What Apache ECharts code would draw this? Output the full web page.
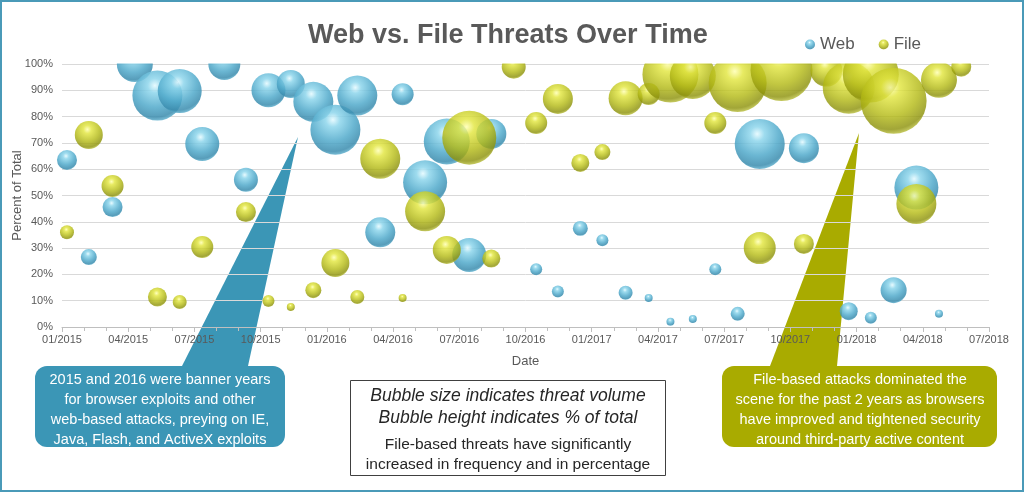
<!DOCTYPE html>
<html>
<head>
<meta charset="utf-8">
<title>Web vs. File Threats Over Time</title>
<script src="https://cdn.jsdelivr.net/npm/echarts@6/dist/echarts.min.js"></script>
<style>
  html, body { margin: 0; padding: 0; background: #fff; }
  #chart { width: 1024px; height: 492px; }
</style>
</head>
<body>
<div id="chart"></div>
<script>
// quarter labels on the date axis
const xTickLabels = ['01/2015', '04/2015', '07/2015', '10/2015', '01/2016', '04/2016', '07/2016',
  '10/2016', '01/2017', '04/2017', '07/2017', '10/2017', '01/2018', '04/2018', '07/2018'];

// Web threats: date, % of total, volume (relative)
const webDates = ['2015-01-08', '2015-02-07', '2015-03-10', '2015-04-10', '2015-05-11', '2015-06-11',
  '2015-07-12', '2015-08-12', '2015-09-11', '2015-10-12', '2015-11-12', '2015-12-13', '2016-01-13',
  '2016-02-12', '2016-03-14', '2016-04-14', '2016-05-15', '2016-06-14', '2016-07-15', '2016-08-15',
  '2016-10-16', '2016-11-15', '2016-12-16', '2017-01-16', '2017-02-16', '2017-03-19', '2017-04-18',
  '2017-05-19', '2017-06-19', '2017-07-20', '2017-08-20', '2017-10-20', '2017-12-21', '2018-01-21',
  '2018-02-20', '2018-03-23', '2018-04-23'];
const webPct = [63.5, 26.6, 45.6, 100, 88, 89.7, 69.6, 100, 56, 90, 92.4, 85.6, 75, 88, 36, 88.5, 55,
  70.5, 27.4, 73.4, 22, 13.5, 37.5, 33, 13, 11, 2, 3, 22, 5, 69.6, 68, 6, 3.5, 14, 53, 5];
const webVolume = [100, 64, 100, 324, 625, 484, 289, 256, 144, 289, 196, 400, 625, 400, 225, 121, 484,
  529, 289, 225, 36, 36, 56, 36, 49, 16, 16, 16, 36, 49, 625, 225, 81, 36, 169, 484, 16];

// File threats: date, % of total, volume (relative)
const fileDates = ['2015-01-08', '2015-02-07', '2015-03-10', '2015-05-11', '2015-06-11', '2015-07-12',
  '2015-09-11', '2015-10-12', '2015-11-12', '2015-12-13', '2016-01-13', '2016-02-12', '2016-03-14',
  '2016-04-14', '2016-05-15', '2016-06-14', '2016-07-15', '2016-08-15', '2016-09-15', '2016-10-16',
  '2016-11-15', '2016-12-16', '2017-01-16', '2017-02-16', '2017-03-19', '2017-04-18', '2017-05-19',
  '2017-06-19', '2017-07-20', '2017-08-20', '2017-09-19', '2017-10-20', '2017-11-20', '2017-12-21',
  '2018-01-21', '2018-02-20', '2018-03-23', '2018-04-23', '2018-05-24'];
const filePct = [36, 73, 53.6, 11.4, 9.5, 30.4, 43.7, 9.9, 7.6, 14, 24.3, 11.4, 64, 11, 44, 29.3, 72,
  26, 99, 77.6, 86.7, 62.4, 66.5, 87, 88.6, 96, 95.4, 77.6, 92.8, 30, 97.7, 31.6, 97.5, 91, 96, 86,
  46.8, 94, 99];
const fileVolume = [49, 196, 121, 90, 49, 121, 100, 36, 16, 64, 196, 49, 400, 16, 400, 196, 729, 81,
  144, 121, 225, 81, 64, 289, 121, 784, 529, 121, 841, 256, 961, 100, 256, 676, 784, 1089, 400, 324, 100];

// months since 01/2015, fractional by day
const monthPos = s => {
  const [y, m, d] = s.split('-').map(Number);
  const dim = new Date(y, m, 0).getDate();
  return (y - 2015) * 12 + (m - 1) + (d - 1) / dim;
};

const toSeriesData = (dates, pct, vol) => dates.map((d, i) => [monthPos(d), pct[i], vol[i]]);

const sphere = (hi, light, mid, dark, rim) => ({
  type: 'radial', x: 0.45, y: 0.3, r: 0.72,
  colorStops: [
    { offset: 0, color: hi },
    { offset: 0.2, color: light },
    { offset: 0.6, color: mid },
    { offset: 0.88, color: dark },
    { offset: 1, color: rim }
  ]
});

const FONT = '"Liberation Sans", Arial, sans-serif';
const GREY = '#595959';

const myChart = echarts.init(document.querySelector('#chart'));

const option = {
  animation: false,
  textStyle: { fontFamily: FONT },
  title: {
    text: 'Web vs. File Threats Over Time',
    left: 303,
    top: 17,
    z: 10,
    textStyle: { fontSize: 27, fontWeight: 'bold', color: GREY, fontFamily: FONT }
  },
  legend: {
    data: ['Web', 'File'],
    left: 800,
    top: 31,
    z: 10,
    icon: 'circle',
    itemWidth: 10,
    itemHeight: 10,
    itemGap: 24,
    textStyle: { fontSize: 17, color: GREY, fontFamily: FONT }
  },
  grid: { left: 62, right: 35, top: 64, bottom: 165, outerBoundsMode: 'none', containLabel: false },
  xAxis: {
    type: 'value',
    min: 0,
    max: 42,
    interval: 3,
    name: 'Date',
    nameLocation: 'middle',
    nameGap: 28,
    nameMoveOverlap: false,
    nameTextStyle: { fontSize: 13, color: GREY },
    axisLine: { lineStyle: { color: '#bfbfbf' } },
    axisTick: { length: 5, lineStyle: { color: '#bfbfbf' } },
    minorTick: { show: true, splitNumber: 3, length: 4, lineStyle: { color: '#bfbfbf' } },
    splitLine: { show: false },
    axisLabel: {
      fontSize: 11,
      color: GREY,
      margin: 7,
      formatter: v => xTickLabels[Math.round(v / 3)]
    }
  },
  yAxis: {
    type: 'value',
    min: 0,
    max: 100,
    interval: 10,
    name: 'Percent of Total',
    nameLocation: 'middle',
    nameGap: 38,
    nameMoveOverlap: false,
    nameTextStyle: { fontSize: 13, color: GREY },
    axisLine: { show: false },
    axisTick: { show: false },
    splitLine: { lineStyle: { color: '#d9d9d9' } },
    axisLabel: { fontSize: 11, color: GREY, margin: 9, formatter: '{value}%' }
  },
  series: [
    {
      name: 'Web',
      type: 'scatter',
      data: toSeriesData(webDates, webPct, webVolume),
      symbolSize: d => Math.sqrt(d[2]) * 2,
      itemStyle: {
        color: sphere('#e4faff', '#8ed6ec', '#51aacb', '#3a8cae', '#6bbad6'),
        opacity: 0.85
      }
    },
    {
      name: 'File',
      type: 'scatter',
      data: toSeriesData(fileDates, filePct, fileVolume),
      symbolSize: d => Math.sqrt(d[2]) * 2,
      itemStyle: {
        color: sphere('#ffffb0', '#e2e640', '#b4ba17', '#8d920c', '#c4c94a'),
        opacity: 0.82
      }
    }
  ],
  graphic: [
    // mask bubbles above the 100% line
    { type: 'rect', z: 5, silent: true, shape: { x: 58, y: 0, width: 948, height: 63.5 }, style: { fill: '#fff' } },
    // callout pointers
    { type: 'polygon', z: -1, silent: true, shape: { points: [[182, 366], [248, 366], [298, 137]] }, style: { fill: '#3b96b6' } },
    { type: 'polygon', z: -1, silent: true, shape: { points: [[770, 366], [837, 366], [859, 133]] }, style: { fill: '#a9ab00' } },
    // callout boxes
    { type: 'rect', z: 6, shape: { x: 35, y: 366, width: 250, height: 81, r: 12 }, style: { fill: '#3b96b6' } },
    {
      type: 'text', z: 7, x: 160, y: 410,
      style: {
        text: '2015 and 2016 were banner years\nfor browser exploits and other\nweb-based attacks, preying on IE,\nJava, Flash, and ActiveX exploits',
        font: '14.5px ' + FONT, fill: '#fff', align: 'center', verticalAlign: 'middle', lineHeight: 20
      }
    },
    { type: 'rect', z: 6, shape: { x: 722, y: 366, width: 275, height: 81, r: 12 }, style: { fill: '#a9ab00' } },
    {
      type: 'text', z: 7, x: 860, y: 410,
      style: {
        text: 'File-based attacks dominated the\nscene for the past 2 years as browsers\nhave improved and tightened security\naround third-party active content',
        font: '14.5px ' + FONT, fill: '#fff', align: 'center', verticalAlign: 'middle', lineHeight: 20
      }
    },
    // note box
    { type: 'rect', z: 6, shape: { x: 350.5, y: 380.5, width: 315, height: 95 }, style: { fill: '#fff', stroke: '#404040', lineWidth: 1 } },
    {
      type: 'text', z: 7, x: 508, y: 407,
      style: {
        text: 'Bubble size indicates threat volume\nBubble height indicates % of total',
        font: 'italic 17.5px ' + FONT, fill: '#262626', align: 'center', verticalAlign: 'middle', lineHeight: 22
      }
    },
    {
      type: 'text', z: 7, x: 508, y: 455,
      style: {
        text: 'File-based threats have significantly\nincreased in frequency and in percentage',
        font: '15.5px ' + FONT, fill: '#262626', align: 'center', verticalAlign: 'middle', lineHeight: 20
      }
    },
    // outer frame
    { type: 'rect', z: 20, silent: true, shape: { x: 1, y: 1, width: 1022, height: 490 }, style: { fill: 'none', stroke: '#4a9ab8', lineWidth: 2 } }
  ]
};

myChart.setOption(option);

window.addEventListener('resize', function() {
  myChart.resize();
});
</script>
</body>
</html>
